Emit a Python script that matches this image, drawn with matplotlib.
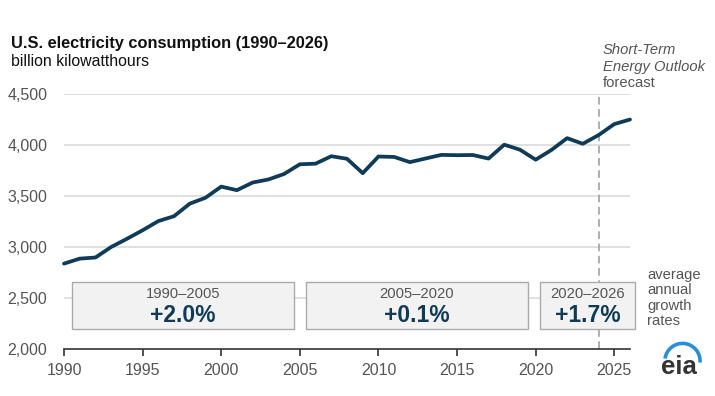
import matplotlib
matplotlib.use("Agg")
import matplotlib.pyplot as plt
from matplotlib.patches import Rectangle, Arc

plt.rcParams['font.family'] = ['Liberation Sans', 'DejaVu Sans']

years = list(range(1990, 2027))
consumption = [2837, 2886, 2897, 3000, 3080, 3164, 3254, 3302, 3425, 3483,
               3592, 3557, 3632, 3662, 3716, 3811, 3817, 3890, 3865, 3724,
               3887, 3883, 3832, 3868, 3903, 3900, 3902, 3867, 4003, 3954,
               3856, 3951, 4067, 4012, 4097, 4205, 4250]
periods = ["1990–2005", "2005–2020", "2020–2026"]
growth_labels = ["+2.0%", "+0.1%", "+1.7%"]
box_x0 = [1990.5, 2005.4, 2020.3]
box_x1 = [2004.6, 2019.5, 2026.3]
forecast_start = 2024
yticks = [2000, 2500, 3000, 3500, 4000, 4500]
xticks = [1990, 1995, 2000, 2005, 2010, 2015, 2020, 2025]

navy = '#0f3b57'
gray_txt = '#555555'

fig = plt.figure(figsize=(7.15, 3.96), dpi=100)
ax = fig.add_axes([64/715, 1-349/396, (630-64)/715, (349-94)/396])
ax.set_xlim(1990, 2026)
ax.set_ylim(2000, 4500)

for yv in yticks[1:]:
    ax.axhline(yv, color='#dadada', lw=1.2, zorder=1)

ax.plot(years, consumption, color=navy, lw=2.7, solid_capstyle='round',
        solid_joinstyle='round', zorder=4, clip_on=False)

ax.plot([forecast_start, forecast_start], [2000, 4500], color='#999999',
        lw=1.1, ls=(0, (5, 3)), zorder=2, clip_on=False)

box_y0, box_y1 = 2196, 2657
for x0, x1, p, g in zip(box_x0, box_x1, periods, growth_labels):
    r = Rectangle((x0, box_y0), x1 - x0, box_y1 - box_y0, facecolor='#f2f2f2',
                  edgecolor='#ababab', lw=1.0, zorder=3, clip_on=False)
    ax.add_patch(r)
    cx = (x0 + x1) / 2
    ax.text(cx, 2540, p, ha='center', va='center', fontsize=10.6,
            color=gray_txt, zorder=5)
    ax.text(cx, 2330, g, ha='center', va='center', fontsize=16.5,
            fontweight='bold', color=navy, zorder=5)

for s in ['top', 'right', 'left']:
    ax.spines[s].set_visible(False)
ax.spines['bottom'].set_color('#333333')
ax.spines['bottom'].set_linewidth(1.2)
ax.spines['bottom'].set_zorder(5)

ax.set_xticks(xticks)
ax.set_xticklabels([str(x) for x in xticks])
ax.set_yticks(yticks)
ax.set_yticklabels([f"{v:,}" for v in yticks])
ax.tick_params(axis='x', length=5, width=1.2, color='#333333', pad=5,
               labelsize=11.5, labelcolor=gray_txt)
ax.tick_params(axis='y', length=0, pad=12, labelsize=11.5, labelcolor=gray_txt)

fig.text(11/715, 1-48/396, "U.S. electricity consumption (1990–2026)",
         fontsize=11.75, fontweight='bold', color='#111111', va='baseline')
fig.text(11/715, 1-66/396, "billion kilowatthours", fontsize=11.4,
         color='#111111', va='baseline')

fig.text(603/715, 1-54/396, "Short-Term", fontsize=10.6, style='italic',
         color=gray_txt, va='baseline')
fig.text(603/715, 1-71/396, "Energy Outlook", fontsize=10.6, style='italic',
         color=gray_txt, va='baseline')
fig.text(603/715, 1-87/396, "forecast", fontsize=10.6,
         color=gray_txt, va='baseline')

fig.text(647/715, 1-298/396, "average\nannual\ngrowth\nrates", fontsize=10.6,
         color=gray_txt, va='center', ha='left', linespacing=1.15)

# eia logo
fig.text(679/715, 1-367/396, "eia", fontsize=18.5, fontweight='bold',
         color='#333333', ha='center', va='center')
arc = Arc((682.5/100, (396-361)/100), 0.352, 0.352, theta1=-5, theta2=172,
          color='#2a8fd6', lw=2.6, transform=fig.dpi_scale_trans)
fig.add_artist(arc)

fig.savefig("out.png", dpi=100)
